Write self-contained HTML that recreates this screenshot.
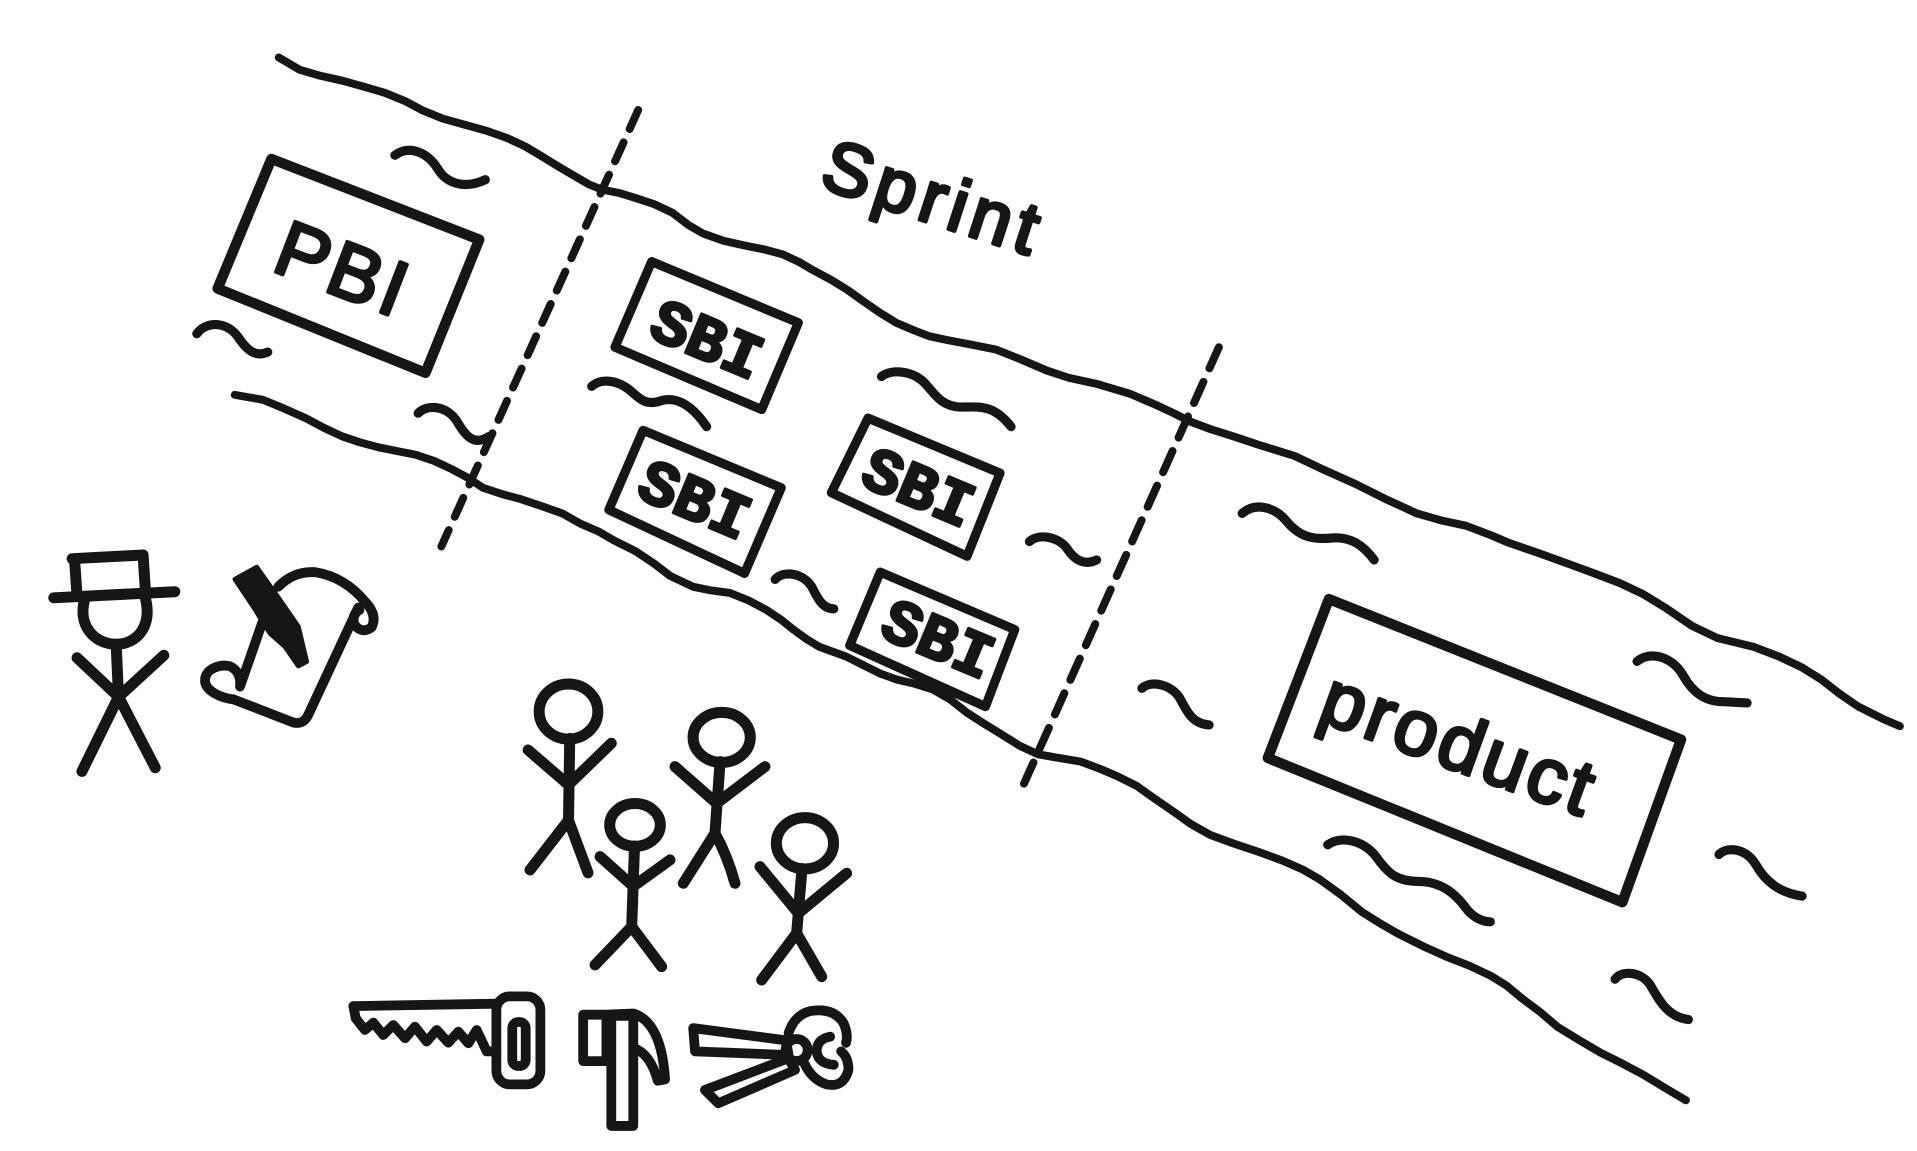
<!DOCTYPE html>
<html>
<head>
<meta charset="utf-8">
<style>
html,body{margin:0;padding:0;background:#ffffff;width:1917px;height:1151px;overflow:hidden}
svg{display:block}
.hand{font-family:"Liberation Sans",sans-serif;font-weight:normal}
.mono{font-family:"Liberation Mono",monospace;font-weight:bold}
</style>
</head>
<body>
<svg width="1917" height="1151" viewBox="0 0 1568 941.5" preserveAspectRatio="none" xmlns="http://www.w3.org/2000/svg">
<rect x="0" y="0" width="1568" height="941.5" fill="#ffffff"/>
<g fill="none" stroke="#161616" stroke-linecap="round" stroke-linejoin="round">
  <!-- river banks -->
  <path stroke-width="6.5" d="M228,47 L245,57 262,62 280,66 298,71 315,76 332,83 345,90 362,97 380,102 398,107 415,113 430,120 445,129 458,137 470,144 482,151 492,155 507,158 520,162 535,167 550,174 563,184 575,191 592,197 610,201 625,204 640,208 653,214 665,221 680,229 693,237 707,247 720,256 733,264 747,270 760,275 774,278 795,282 815,286 835,294 856,303 874,309 897,314 924,322 945,331 960,338 974,345 990,351 1009,357 1030,364 1059,373 1080,383 1109,396 1135,409 1159,420 1180,426 1199,430 1220,438 1234,444 1260,453 1285,462 1304,469 1325,477 1344,486 1362,497 1384,512 1405,522 1434,529 1455,537 1474,546 1490,556 1504,567 1520,578 1540,588 1554,594"/>
  <path stroke-width="6.5" d="M192,323 L215,327 232,334 250,342 265,350 280,357 295,362 310,366 325,369 340,372 355,377 370,384 383,391 395,399 410,404 425,408 443,414 460,420 474,428 490,435 502,442 520,451 535,461 548,471 567,480 582,483 597,485 612,491 627,499 639,507 649,515 660,523 670,529 681,533 692,537 706,544 720,551 734,556 747,559 763,564 777,572 791,583 805,592 818,600 834,610 849,617 866,620 884,623 900,629 914,635 930,643 944,653 960,664 974,674 990,683 1009,690 1030,697 1049,704 1065,711 1079,719 1097,732 1114,746 1130,756 1144,764 1164,774 1184,783 1202,790 1219,798 1232,806 1244,816 1260,828 1274,840 1292,851 1309,861 1327,870 1344,879 1362,890 1379,900"/>

  <!-- dashed sprint boundaries -->
  <path stroke-width="6.5" stroke-linecap="round" stroke-dasharray="17 12" d="M522,90 L361,447"/>
  <path stroke-width="6.5" stroke-linecap="round" stroke-dasharray="19 12" d="M997,284 L834,649"/>

  <!-- squiggles -->
  <g stroke-width="7.5">
    <path d="M323,127 C335,118 350,125 358,138 C365,150 380,155 397,147"/>
    <path d="M161,273 C168,263 185,262 195,276 C203,288 210,292 219,288"/>
    <path d="M342,338 C350,330 366,332 374,345 C381,357 388,365 400,357"/>
    <path d="M484,316 C492,309 505,311 515,319 C523,326 528,332 540,328 C552,324 565,330 578,349"/>
    <path d="M721,308 C730,301 748,304 757,314 C765,323 770,332 785,333 C800,333 812,330 827,349"/>
    <path d="M842,443 C850,436 866,439 873,449 C879,458 887,463 897,458"/>
    <path d="M634,474 C641,466 657,469 664,480 C669,490 673,498 682,498"/>
    <path d="M1016,420 C1026,411 1042,414 1052,426 C1062,438 1072,442 1090,440 C1105,439 1115,446 1124,458"/>
    <path d="M934,563 C942,556 958,560 965,571 C971,582 975,592 989,593"/>
    <path d="M1339,541 C1350,532 1368,537 1377,553 C1385,567 1395,574 1410,574 L1429,575"/>
    <path d="M1086,691 C1098,683 1115,688 1125,700 C1135,714 1142,721 1160,721 C1178,721 1190,730 1200,744 C1205,750 1212,754 1219,754"/>
    <path d="M1406,699 C1413,692 1428,694 1436,707 C1444,721 1455,730 1474,733"/>
    <path d="M1321,801 C1327,793 1343,795 1350,806 C1358,820 1365,832 1381,834"/>
  </g>

  <!-- boxes -->
  <polygon stroke-width="8.5" points="222,130 392,196 348,305 178,236"/>
  <polygon stroke-width="7.5" points="533,214 653,264 623,335 503,284"/>
  <polygon stroke-width="7.5" points="526,352 639,399 609,469 498,417"/>
  <polygon stroke-width="7.5" points="710,342 818,387 791,455 680,403"/>
  <polygon stroke-width="7.5" points="720,468 830,515 806,578 695,528"/>
  <polygon stroke-width="8.5" points="1087,490 1375,605 1327,738 1037,620"/>

  <!-- product owner -->
  <g stroke-width="9">
    <path d="M59,457 L117,454"/>
    <path d="M61,458 L63,487"/>
    <path d="M117,454 L119,484"/>
    <path d="M44,489 L143,484"/>
    <path d="M70,488 C62,512 78,527 95,527 C112,527 126,512 118,486"/>
    <path d="M95,527 L97,571"/>
    <path d="M63,538 L97,570 L134,536"/>
    <path d="M97,570 L67,631 M97,570 L127,628"/>
  </g>
  <!-- scroll -->
  <g stroke-width="8">
    <path d="M227.6,480 Q240,467 258,468 Q282,472 298.5,492 Q309,503 304,513 Q296,519 290,511 Q287,503 294,499"/>
    <path d="M293,497 L252,585 Q248,593 240,591 L190.8,572 C181,571 167,565 167.7,556 C168,547 180,543 188,545 C195,548 197,555 196.3,561.6 L214.8,508.5"/>
  </g>
  <polygon fill="#161616" stroke-width="4" points="192.2,473.8 210,464 229,490.8 244,512.6 250.8,541.2 244,544.7 233.1,528.9 220.8,518 207.2,496.2"/>

  <!-- team -->
  <g stroke-width="9">
    <ellipse cx="465" cy="582" rx="24" ry="22.5"/>
    <path d="M466,604 L465,671"/>
    <path d="M432,613.5 L465,642 L500,608"/>
    <path d="M465,671 L433.5,711.6 M465,671 Q472,690 481,714"/>

    <ellipse cx="519.4" cy="674.8" rx="20.7" ry="17.5"/>
    <path d="M519,692 L516.7,758"/>
    <path d="M490.8,700.7 L518,725 L548,703.4"/>
    <path d="M516.7,758 L486.7,789.3 M516.7,758 L541.2,790.7"/>

    <ellipse cx="590.3" cy="603.2" rx="23.4" ry="20.5"/>
    <path d="M589,623 L584.8,681.6"/>
    <path d="M552.1,627.1 L586.2,657.1 L625.7,627.1"/>
    <path d="M584.8,681.6 L558.9,722.5 M584.8,681.6 Q595,700 601.2,722.5"/>

    <ellipse cx="658.4" cy="689.8" rx="23.4" ry="21"/>
    <path d="M656,710.5 L651.6,763.4"/>
    <path d="M621.6,708.9 L653,747 L692.5,714.3"/>
    <path d="M651.6,763.4 L623,801.6 M651.6,763.4 L672.1,798.9"/>
  </g>

  <!-- tools -->
  <g stroke-width="8">
    <path d="M289,823 L406,821"/>
    <path d="M289,823 L291,833"/>
    <polyline points="291,833 298.5,842.5 305.4,836.5 313.5,846.6 321.7,838.4 331.3,849.3 339.4,839.8 349,852 357.2,842.5 366.7,852.9 374.9,843.9 383.1,853.4 389.9,842.5 398.1,860 406,860"/>
    <rect x="406" y="815" width="36" height="72" rx="11"/>
    <rect x="419" y="836" width="11" height="36" rx="5"/>

    <rect x="477" y="830" width="19" height="38"/>
    <rect x="500" y="831" width="18" height="90"/>
    <path d="M496,830 L518,829 Q541,836 544,883 L538,884 Q532,862 518,857"/>

    <polygon points="567,841 643,851 645,863 568.5,860"/>
    <polygon points="576.6,891.6 587.5,902.5 650.3,875.2 644.8,865.7"/>
    <circle cx="651.6" cy="858.9" r="9"/>
    <path d="M645,845 Q650,830 663,827 Q682,824 690,837 Q694,846 692,853"/>
    <path d="M658,870 Q664,883 676,887 Q690,890 694,875 Q694,865 688,860"/>
    <path d="M679,848 Q668,850 668,860 Q669,870 682,871"/>
  </g>
</g>

<!-- labels -->
<g fill="#161616" stroke="#161616" stroke-linejoin="round">
  <text class="hand" x="281" y="220" transform="rotate(21 281 220)" style="font-size:64px;letter-spacing:3px" text-anchor="middle" dominant-baseline="central" stroke-width="3">PBI</text>
  <text class="hand" x="764" y="162" transform="rotate(18 764 162)" style="font-size:60px;letter-spacing:5px" text-anchor="middle" dominant-baseline="central" stroke-width="3.2">Sprint</text>
  <text class="hand" x="1194" y="608" transform="rotate(20 1194 608)" style="font-size:64px;letter-spacing:3px" text-anchor="middle" dominant-baseline="central" stroke-width="3">product</text>
  <g class="mono" style="font-size:52px" text-anchor="middle" dominant-baseline="central" stroke-width="2.5">
    <text x="577" y="281" transform="rotate(22.6 577 281)">SBI</text>
    <text x="567" y="412" transform="rotate(22.6 567 412)">SBI</text>
    <text x="750" y="402" transform="rotate(22.6 750 402)">SBI</text>
    <text x="766" y="526" transform="rotate(22.6 766 526)">SBI</text>
  </g>
</g>
</svg>
</body>
</html>
